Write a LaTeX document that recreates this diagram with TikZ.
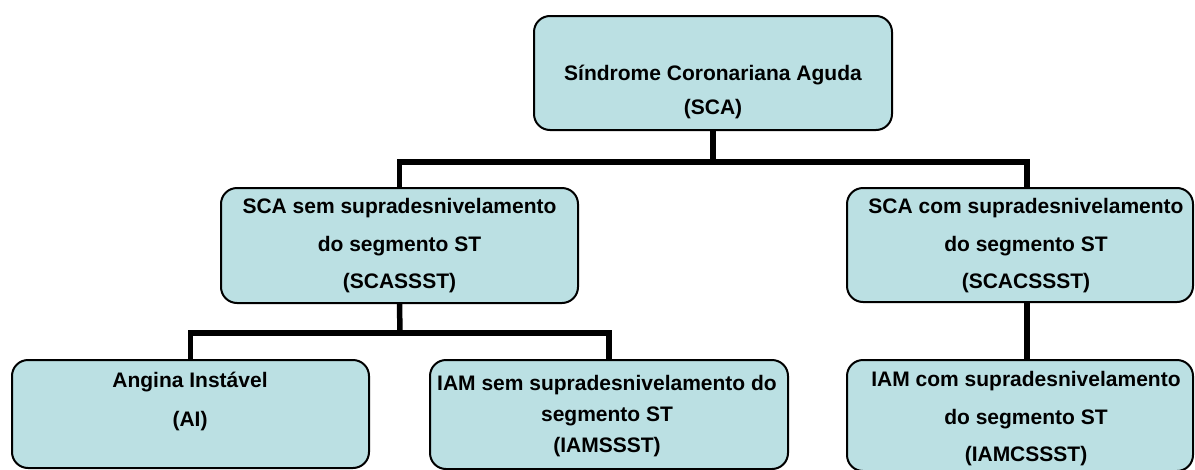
\documentclass[tikz,border=0pt]{standalone}
\usepackage{fontspec}
\setmainfont{Liberation Sans}
\definecolor{boxfill}{RGB}{187,224,227}
\pgfdeclarelayer{bg}
\pgfsetlayers{bg,main}
\tikzset{
  box/.style={draw=black, line width=2pt, fill=boxfill, rounded corners=16pt, inner sep=0pt},
  conn/.style={draw=black, line width=5.5pt, line cap=rect, line join=miter},
  txt/.style={anchor=north, inner sep=0pt, align=center, text=black},
}
\begin{document}
\begin{tikzpicture}[x=1pt,y=-1pt]
\useasboundingbox (0,0) rectangle (1195,469);
% boxes
\node[box, minimum width=358pt, minimum height=114pt] (sca) at (713,73) {};
\node[box, minimum width=357pt, minimum height=115pt] (scas) at (399.5,245.5) {};
\node[box, minimum width=346pt, minimum height=114pt] (scac) at (1020,245) {};
\node[box, minimum width=357pt, minimum height=108pt] (ai) at (190.5,414) {};
\node[box, minimum width=358pt, minimum height=109pt] (iams) at (609,414.5) {};
\node[box, minimum width=346pt, minimum height=111pt] (iamc) at (1020,415.5) {};
% texts
\node[txt, font=\fontsize{21}{34}\selectfont\bfseries] (tsca) at (713,64.5) {Síndrome Coronariana Aguda\\(SCA)};
\node[txt, font=\fontsize{21}{37.5}\selectfont\bfseries] (tscas) at (399.5,198.5) {SCA sem supradesnivelamento\\do segmento ST\\(SCASSST)};
\node[txt, font=\fontsize{21}{37.5}\selectfont\bfseries] (tscac) at (1026,198.5) {SCA com supradesnivelamento\\do segmento ST\\(SCACSSST)};
\node[txt, font=\fontsize{21}{39}\selectfont\bfseries] (tai) at (190,371.5) {Angina Instável\\(AI)};
\node[txt, font=\fontsize{21}{31}\selectfont\bfseries] (tiams) at (607,375) {IAM sem supradesnivelamento do\\segmento ST\\(IAMSSST)};
\node[txt, font=\fontsize{21}{37.5}\selectfont\bfseries] (tiamc) at (1026,371.5) {IAM com supradesnivelamento\\do segmento ST\\(IAMCSSST)};
% connectors
\coordinate (j1) at (713,162);
\coordinate (j2) at (400,333);
\coordinate (scactop) at (1027,188);
\coordinate (scacbot) at (1027,302);
\coordinate (iamctop) at (1027,360);
\begin{pgfonlayer}{bg}
\draw[conn] (sca.south) -- (j1);
\draw[conn] (scas.north) |- (j1);
\draw[conn] (scactop) |- (j1);
\draw[conn] (scas.south) -- (j2);
\draw[conn] (ai.north) |- (j2);
\draw[conn] (iams.north) |- (j2);
\draw[conn] (scacbot) -- (iamctop);
\end{pgfonlayer}
\end{tikzpicture}
\end{document}
